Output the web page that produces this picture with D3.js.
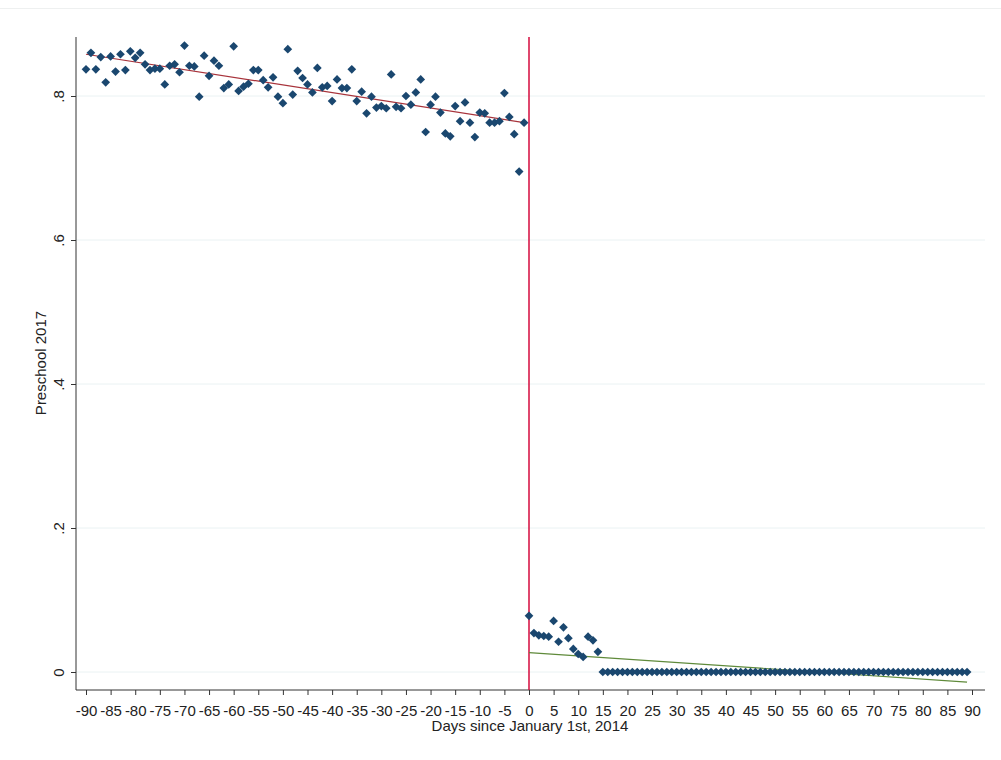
<!DOCTYPE html>
<html>
<head>
<meta charset="utf-8">
<script src="https://cdn.jsdelivr.net/npm/d3@7"></script>
<style>
  body { margin: 0; background: #fff; }
  text { font-family: "Liberation Sans", Arial, sans-serif; }
</style>
</head>
<body>
<div id="chart"></div>
<script>
// values for days -90 .. -1
const leftValues = [
  0.837, 0.860, 0.837, 0.854, 0.819, 0.855, 0.834, 0.858, 0.836, 0.862,
  0.853, 0.860, 0.844, 0.836, 0.838, 0.838, 0.816, 0.842, 0.844, 0.833,
  0.870, 0.842, 0.841, 0.799, 0.856, 0.828, 0.849, 0.842, 0.811, 0.816,
  0.869, 0.807, 0.813, 0.817, 0.836, 0.836, 0.822, 0.812, 0.826, 0.799,
  0.790, 0.865, 0.802, 0.835, 0.825, 0.816, 0.805, 0.839, 0.812, 0.814,
  0.793, 0.823, 0.811, 0.811, 0.837, 0.793, 0.806, 0.776, 0.799, 0.784,
  0.786, 0.783, 0.830, 0.785, 0.783, 0.800, 0.788, 0.805, 0.823, 0.750,
  0.788, 0.799, 0.777, 0.748, 0.744, 0.786, 0.765, 0.791, 0.763, 0.743,
  0.777, 0.776, 0.763, 0.763, 0.765, 0.804, 0.771, 0.747, 0.695, 0.763
];
// values for days 0 .. 89
const rightValues = [
  0.078, 0.054, 0.051, 0.050, 0.049, 0.071, 0.042, 0.062, 0.047, 0.032,
  0.025, 0.021, 0.049, 0.044, 0.028, 0, 0, 0, 0, 0,
  0, 0, 0, 0, 0, 0, 0, 0, 0, 0,
  0, 0, 0, 0, 0, 0, 0, 0, 0, 0,
  0, 0, 0, 0, 0, 0, 0, 0, 0, 0,
  0, 0, 0, 0, 0, 0, 0, 0, 0, 0,
  0, 0, 0, 0, 0, 0, 0, 0, 0, 0,
  0, 0, 0, 0, 0, 0, 0, 0, 0, 0,
  0, 0, 0, 0, 0, 0, 0, 0, 0, 0
];
// fitted lines: [day, value]
const leftFit = [[-90, 0.858], [-1, 0.763]];
const rightFit = [[0, 0.027], [89, -0.014]];
const xTicks = d3.range(-90, 91, 5);
const yTicks = [0, 0.2, 0.4, 0.6, 0.8];

const width = 1001, height = 760;
const plot = { left: 76, right: 985, top: 37, bottom: 690 };

const x = d3.scaleLinear().domain([-90, 90]).range([86, 972]);
const y = d3.scaleLinear().domain([0, 0.8]).range([672, 96]);

const svg = d3.select("#chart").append("svg")
  .attr("width", width).attr("height", height);

// top edge of the graph region
svg.append("line")
  .attr("x1", 0).attr("x2", width)
  .attr("y1", 8.5).attr("y2", 8.5)
  .attr("stroke", "#eef0f0");

// gridlines
svg.append("g").selectAll("line")
  .data(yTicks)
  .join("line")
  .attr("x1", plot.left).attr("x2", plot.right)
  .attr("y1", d => y(d)).attr("y2", d => y(d))
  .attr("stroke", "#eaf2f3").attr("stroke-width", 1);

// x axis
const xAxis = svg.append("g")
  .attr("transform", `translate(0,${plot.bottom})`)
  .call(d3.axisBottom(x).tickValues(xTicks).tickSize(5).tickSizeOuter(0).tickFormat(d => String(d)));
xAxis.select(".domain").remove();
xAxis.selectAll(".tick line").attr("stroke", "#333");
xAxis.selectAll(".tick text")
  .attr("font-size", "15px").attr("fill", "#222")
  .attr("font-family", "Liberation Sans, Arial, sans-serif")
  .attr("y", 26).attr("dy", null);

// y axis
const yAxis = svg.append("g")
  .attr("transform", `translate(${plot.left},0)`)
  .call(d3.axisLeft(y).tickValues(yTicks).tickSize(5)
    .tickFormat(d => d === 0 ? "0" : d3.format(".1f")(d).replace(/^0/, "")));
yAxis.select(".domain").remove();
yAxis.selectAll(".tick line").attr("stroke", "#333");
yAxis.selectAll(".tick text")
  .attr("font-size", "15px").attr("fill", "#222")
  .attr("font-family", "Liberation Sans, Arial, sans-serif")
  .attr("x", null).attr("dy", null)
  .attr("text-anchor", "middle")
  .attr("transform", "translate(-12,0) rotate(-90)");

// axis lines
svg.append("line")
  .attr("x1", plot.left).attr("x2", plot.left)
  .attr("y1", plot.top).attr("y2", plot.bottom)
  .attr("stroke", "#333");
svg.append("line")
  .attr("x1", plot.left).attr("x2", plot.right)
  .attr("y1", plot.bottom).attr("y2", plot.bottom)
  .attr("stroke", "#333");

// cutoff
svg.append("line")
  .attr("x1", x(0)).attr("x2", x(0))
  .attr("y1", plot.top).attr("y2", plot.bottom)
  .attr("stroke", "#d40a3c").attr("stroke-width", 1.5);

// fitted lines
const line = d3.line().x(d => x(d[0])).y(d => y(d[1]));
svg.append("path").datum(leftFit)
  .attr("d", line).attr("fill", "none")
  .attr("stroke", "#a8333b").attr("stroke-width", 1.2);
svg.append("path").datum(rightFit)
  .attr("d", line).attr("fill", "none")
  .attr("stroke", "#5f8a3a").attr("stroke-width", 1.2);

// points
const points = [
  ...leftValues.map((v, i) => ({ day: -90 + i, value: v })),
  ...rightValues.map((v, i) => ({ day: i, value: v }))
];
const diamond = d3.symbol(d3.symbolSquare, 38);
svg.append("g").selectAll("path")
  .data(points)
  .join("path")
  .attr("d", diamond)
  .attr("transform", d => `translate(${x(d.day)},${y(d.value)}) rotate(45)`)
  .attr("fill", "#1a476f");

// titles
svg.append("text")
  .attr("x", 530).attr("y", 731)
  .attr("text-anchor", "middle")
  .attr("font-size", "15px").attr("fill", "#222")
  .text("Days since January 1st, 2014");

svg.append("text")
  .attr("transform", `translate(46,363) rotate(-90)`)
  .attr("text-anchor", "middle")
  .attr("font-size", "15px").attr("fill", "#222")
  .text("Preschool 2017");
</script>
</body>
</html>
